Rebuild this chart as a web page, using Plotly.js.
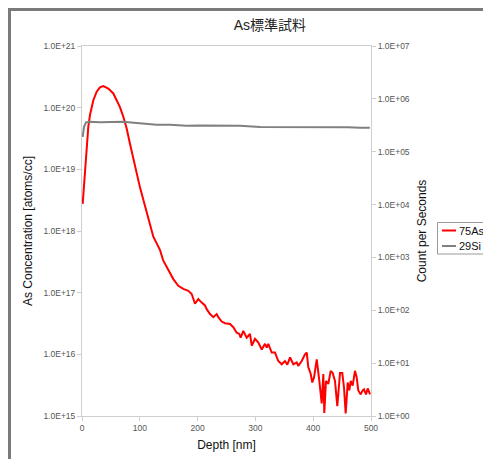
<!DOCTYPE html>
<html>
<head>
<meta charset="utf-8">
<script src="https://cdn.plot.ly/plotly-3.0.1.min.js"></script>
<style>
html,body{margin:0;padding:0;background:#fff;}
#chart{width:483px;height:459px;}
</style>
</head>
<body>
<div id="chart"></div>
<script>
// ---- data ----
const chartTitle = "As標準試料";
const xTitle = "Depth [nm]";
const yTitle = "As Concentration [atoms/cc]";
const y2Title = "Count per Seconds";
const seriesNames = ["75As", "29Si"];
const seriesColors = ["#ff0000", "#808080"];

const depthAs = [1.2,3.5,5.2,8.1,10.9,13.8,19.6,25.4,31.1,36.9,45.5,54.2,60.0,65.7,71.5,77.3,83.0,88.8,94.6,100.3,
  106.1,114.7,123.4,129.2,135.0,140.7,149.3,158.0,166.6,175.3,183.9,189.8,195.5,201.2,207.1,212.8,215.7,221.5,227.2,233.0,
  235.8,241.7,247.4,256.1,261.8,267.6,272.1,274.5,279.1,284.9,290.7,293.6,299.3,305.1,311.0,316.6,319.6,322.3,328.2,333.9,
  339.6,345.5,351.2,355.2,360.0,365.6,371.5,374.2,380.1,385.8,388.8,391.5,395.7,398.4,401.4,406.1,410.6,414.7,417.5,419.2,
  422.1,426.1,430.3,433.7,437.7,441.7,446.4,450.3,453.3,456.2,459.7,462.5,464.9,468.3,472.3,475.3,478.0,482.2,485.6,487.9,
  491.4,494.3,498.3];
const concAs = [2.75e18,5.9e18,1.1e19,2.6e19,4.9e19,7.6e19,1.32e20,1.82e20,2.14e20,2.24e20,2.04e20,1.70e20,1.35e20,1.02e20,7.1e19,4.6e19,2.6e19,1.48e19,8.5e18,5.1e18,
  3.2e18,1.58e18,8.1e17,6.3e17,4.9e17,3.3e17,2.3e17,1.66e17,1.29e17,1.15e17,1.07e17,9.5e16,6.6e16,7.9e16,6.9e16,6.2e16,5.4e16,4.5e16,4.0e16,4.5e16,
  4.0e16,3.4e16,3.2e16,3.1e16,2.75e16,2.24e16,2.14e16,1.86e16,2.4e16,1.86e16,2.14e16,1.38e16,1.78e16,1.55e16,1.2e16,1.48e16,1.29e16,1.48e16,1.07e16,1.07e16,
  7.8e15,6.9e15,7.8e15,6.8e15,8.9e15,6.9e15,7.4e15,6.5e15,7.8e15,1.0e16,1.07e16,6.2e15,4.8e15,3.5e15,4.2e15,8.3e15,3.7e15,1.6e15,4.8e15,1.12e15,
  3.7e15,3.3e15,5.4e15,5.0e15,3.7e15,1.45e15,5.0e15,5.0e15,2.9e15,1.1e15,3.5e15,2.6e15,3.7e15,3.1e15,5.4e15,4.2e15,2.6e15,2.24e15,2.6e15,2.7e15,
  2.24e15,2.8e15,2.24e15];

const depthSi = [1.2,3.5,6.9,13.8,31.1,48.4,71.5,94.6,129.2,152.2,181.1,204.2,238.8,273.4,308.0,340,370,400,430,460,481,498];
const countSi = [1.9e5,2.95e5,3.6e5,3.7e5,3.6e5,3.6e5,3.7e5,3.5e5,3.25e5,3.25e5,3.1e5,3.15e5,3.1e5,3.1e5,2.95e5,2.95e5,2.95e5,2.9e5,2.9e5,2.9e5,2.85e5,2.85e5];

const xTicks = [0,100,200,300,400,500];
const yTickVals = [1e15,1e16,1e17,1e18,1e19,1e20,1e21];
const yTickText = ["1.0E+15","1.0E+16","1.0E+17","1.0E+18","1.0E+19","1.0E+20","1.0E+21"];
const y2TickVals = [1,10,100,1e3,1e4,1e5,1e6,1e7];
const y2TickText = ["1.0E+00","1.0E+01","1.0E+02","1.0E+03","1.0E+04","1.0E+05","1.0E+06","1.0E+07"];

// ---- chart ----
const FONT = "Liberation Sans, Arial, Noto Sans CJK JP, sans-serif";
const axisCol = "#cfcfcf";
const tickFont = {family: FONT, size: 8.5, color: "#555"};

const M = {l: 82, r: 112, t: 46, b: 43};
const W = 483, H = 459;
const PW = W - M.l - M.r, PH = H - M.t - M.b;
const px2x = px => (px - M.l) / PW;          // pixel -> paper x
const px2y = py => (H - M.b - py) / PH;      // pixel -> paper y

const traces = [
  {x: depthAs, y: concAs, name: seriesNames[0], type: "scatter", mode: "lines",
   line: {color: seriesColors[0], width: 2}, yaxis: "y"},
  {x: depthSi, y: countSi, name: seriesNames[1], type: "scatter", mode: "lines",
   line: {color: seriesColors[1], width: 2}, yaxis: "y2"}
];

// legend box (drawn as shapes + text so the short swatches match the original)
const legRows = [230.5, 246];
const shapes = [
  {type: "rect", xref: "paper", yref: "paper", x0: px2x(9.5), x1: px2x(520), y0: px2y(520), y1: px2y(9.5),
   line: {color: "#7a7a7a", width: 3}, fillcolor: "rgba(0,0,0,0)", layer: "below"},
  {type: "rect", xref: "paper", yref: "paper", x0: px2x(437.5), x1: px2x(520), y0: px2y(254), y1: px2y(222.5),
   line: {color: "#9a9a9a", width: 1}, fillcolor: "#fff"}
];
const annotations = [];
seriesNames.forEach((nm, i) => {
  shapes.push({type: "line", xref: "paper", yref: "paper", x0: px2x(442), x1: px2x(456),
               y0: px2y(legRows[i]), y1: px2y(legRows[i]), line: {color: seriesColors[i], width: 2}});
  annotations.push({xref: "paper", yref: "paper", x: px2x(456.5), y: px2y(legRows[i]),
                    xanchor: "left", yanchor: "middle", showarrow: false, text: nm,
                    font: {family: FONT, size: 11, color: "#111"}});
});

const layout = {
  width: W, height: H,
  margin: {l: M.l, r: M.r, t: M.t, b: M.b, pad: 0, autoexpand: false},
  paper_bgcolor: "#fff", plot_bgcolor: "#fff",
  font: {family: FONT, color: "#222"},
  title: {text: chartTitle, font: {family: FONT, size: 14, color: "#222"},
          xref: "paper", x: 0.65, xanchor: "center", yref: "container", y: 0.945, yanchor: "middle"},
  xaxis: {range: [0, 500], tickvals: xTicks, ticktext: xTicks.map(String), automargin: false,
          showline: true, linecolor: axisCol, linewidth: 1, mirror: true,
          ticks: "outside", ticklen: 4, tickcolor: axisCol, showgrid: false, zeroline: false,
          tickfont: tickFont,
          title: {text: xTitle, font: {family: FONT, size: 12, color: "#111"}, standoff: 8}},
  yaxis: {type: "log", range: [15, 21], tickvals: yTickVals, ticktext: yTickText, automargin: false,
          showline: true, linecolor: axisCol, linewidth: 1,
          ticks: "outside", ticklen: 4, tickcolor: axisCol, showgrid: false, zeroline: false,
          tickfont: tickFont,
          title: {text: yTitle, font: {family: FONT, size: 12, color: "#111"}, standoff: 8}},
  yaxis2: {type: "log", range: [0, 7], tickvals: y2TickVals, ticktext: y2TickText, automargin: false,
          overlaying: "y", side: "right",
          showline: true, linecolor: axisCol, linewidth: 1,
          ticks: "outside", ticklen: 4, tickcolor: axisCol, showgrid: false, zeroline: false,
          tickfont: tickFont,
          title: {text: y2Title, font: {family: FONT, size: 12, color: "#111"}, standoff: 8}},
  showlegend: false,
  shapes: shapes,
  annotations: annotations
};

Plotly.newPlot("chart", traces, layout, {displayModeBar: false, staticPlot: true});
</script>
</body>
</html>
